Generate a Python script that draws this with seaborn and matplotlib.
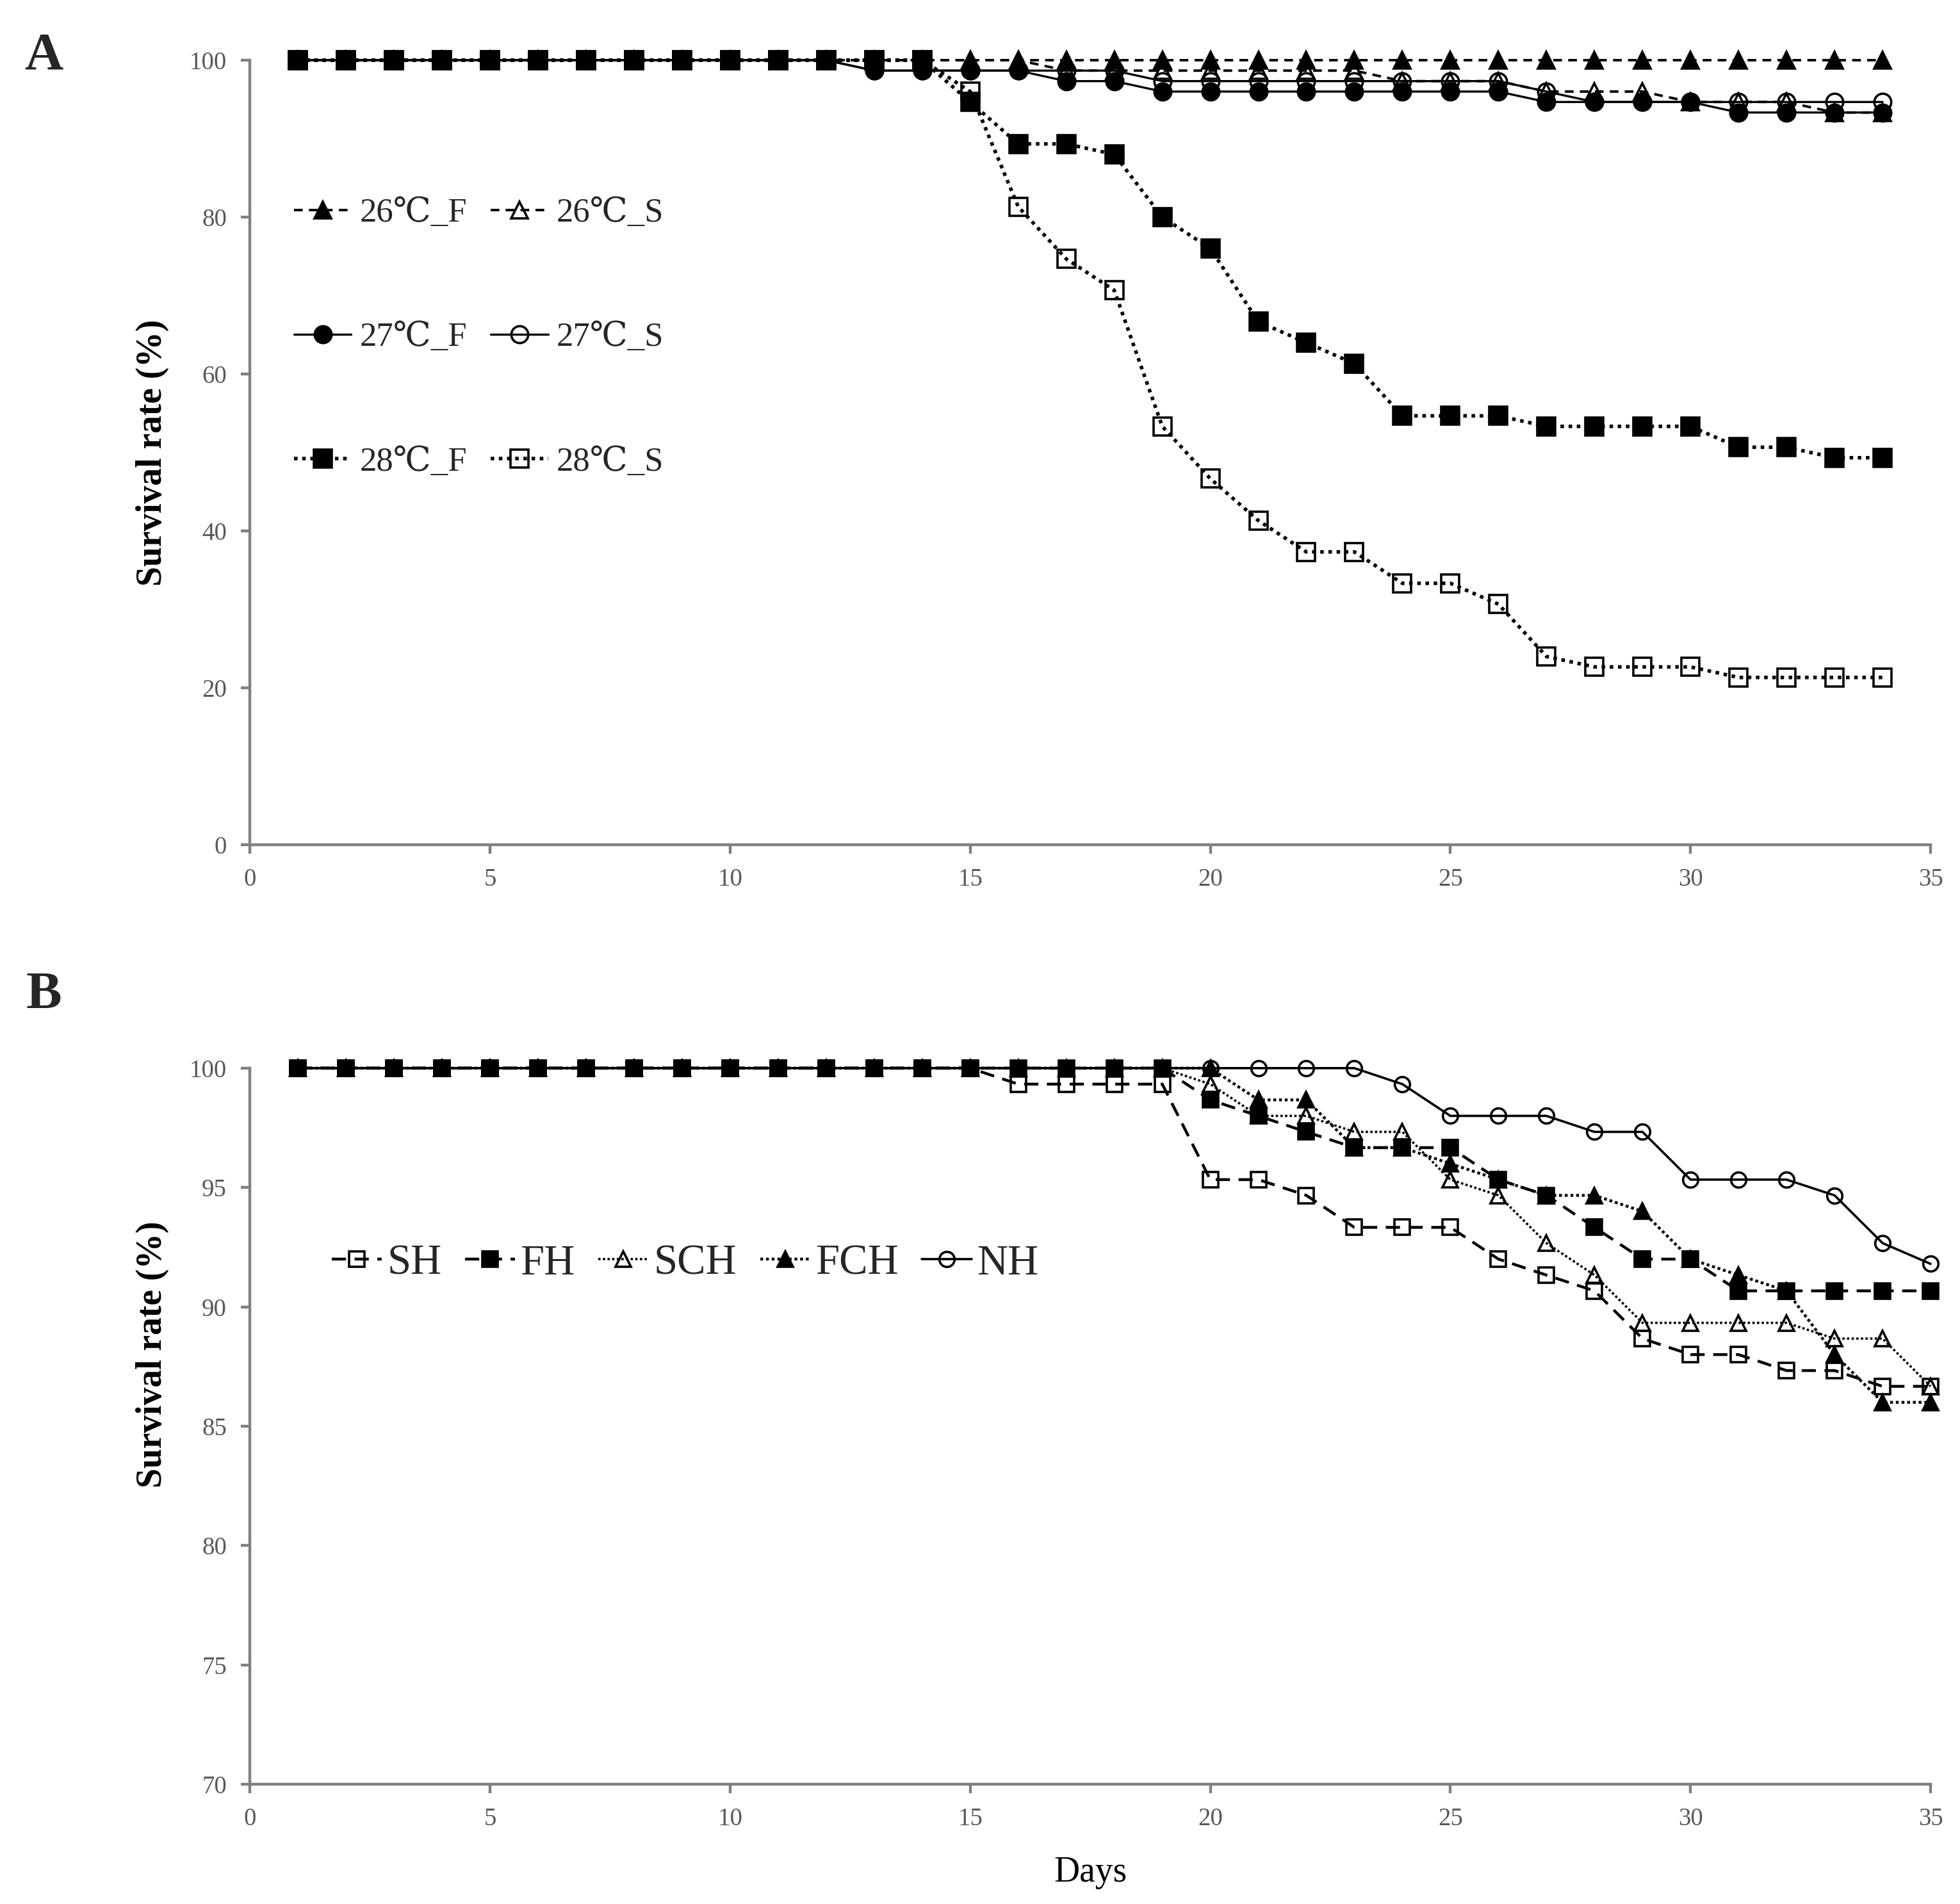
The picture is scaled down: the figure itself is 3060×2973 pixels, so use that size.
import pandas as pd
import matplotlib.pyplot as plt
import seaborn as sns

sns.set_style('ticks')
plt.rcParams['font.family'] = ['Liberation Serif', 'DejaVu Serif', 'DejaVu Sans']

# panel A: rearing temperature, days 1-34
days_a = list(range(1, 35))
t26_f = [100] * 34
t26_s = [100, 100, 100, 100, 100, 100, 100, 100, 100, 100, 100, 100, 100, 100, 100, 100,
         98.67, 98.67, 98.67, 98.67, 98.67, 98.67, 98.67, 97.33, 97.33, 97.33,
         96.0, 96.0, 96.0, 94.67, 94.67, 94.67, 93.33, 93.33]
t27_f = [100, 100, 100, 100, 100, 100, 100, 100, 100, 100, 100, 100,
         98.67, 98.67, 98.67, 98.67, 97.33, 97.33, 96.0, 96.0, 96.0, 96.0, 96.0, 96.0,
         96.0, 96.0, 94.67, 94.67, 94.67, 94.67, 93.33, 93.33, 93.33, 93.33]
t27_s = [100, 100, 100, 100, 100, 100, 100, 100, 100, 100, 100, 100,
         98.67, 98.67, 98.67, 98.67, 98.67, 98.67, 97.33, 97.33, 97.33, 97.33, 97.33,
         97.33, 97.33, 97.33, 96.0, 94.67, 94.67, 94.67, 94.67, 94.67, 94.67, 94.67]
t28_f = [100, 100, 100, 100, 100, 100, 100, 100, 100, 100, 100, 100, 100, 100,
         94.67, 89.33, 89.33, 88.0, 80.0, 76.0, 66.67, 64.0, 61.33, 54.67, 54.67,
         54.67, 53.33, 53.33, 53.33, 53.33, 50.67, 50.67, 49.33, 49.33]
t28_s = [100, 100, 100, 100, 100, 100, 100, 100, 100, 100, 100, 100, 100, 100,
         96.0, 81.33, 74.67, 70.67, 53.33, 46.67, 41.33, 37.33, 37.33, 33.33, 33.33,
         30.67, 24.0, 22.67, 22.67, 22.67, 21.33, 21.33, 21.33, 21.33]

# panel B: feeding groups, days 1-35
days_b = list(range(1, 36))
sh = [100] * 15 + [99.33, 99.33, 99.33, 99.33, 95.33, 95.33, 94.67, 93.33, 93.33, 93.33,
                   92.0, 91.33, 90.67, 88.67, 88.0, 88.0, 87.33, 87.33, 86.67, 86.67]
fh = [100] * 19 + [98.67, 98.0, 97.33, 96.67, 96.67, 96.67, 95.33, 94.67, 93.33, 92.0,
                   92.0, 90.67, 90.67, 90.67, 90.67, 90.67]
sch = [100] * 19 + [99.33, 98.0, 98.0, 97.33, 97.33, 95.33, 94.67, 92.67, 91.33, 89.33,
                    89.33, 89.33, 89.33, 88.67, 88.67, 86.67]
fch = [100] * 19 + [100, 98.67, 98.67, 96.67, 96.67, 96.0, 95.33, 94.67, 94.67, 94.0,
                    92.0, 91.33, 90.67, 88.0, 86.0, 86.0]
nh = [100] * 23 + [99.33, 98.0, 98.0, 98.0, 97.33, 97.33, 95.33, 95.33, 95.33, 94.67,
                   92.67, 91.8]

grey = '#808080'
tick_grey = '#595959'

fig = plt.figure(figsize=(15.3, 14.865), dpi=200)
ax_a = fig.add_axes([0.1275, 0.5563, 0.8575, 0.4121])
ax_b = fig.add_axes([0.1275, 0.0629, 0.8575, 0.3761])


def draw(ax, x, y, label, marker, ls, filled, ms, lw):
    sns.lineplot(x=x, y=y, ax=ax, label=label, color='black', marker=marker,
                 linestyle=ls, linewidth=lw, markersize=ms,
                 markerfacecolor='black' if filled else 'none',
                 markeredgecolor='black', markeredgewidth=1.3, clip_on=False)


dash = (0, (3.5, 2.5))
dot = (0, (1, 1.3))

# order gives rows 26/27/28 with F left and S right
draw(ax_a, days_a, t26_f, '26\u2103_F', '^', dash, True, 9.5, 1.4)
draw(ax_a, days_a, t27_f, '27\u2103_F', 'o', '-', True, 9.5, 1.2)
draw(ax_a, days_a, t28_f, '28\u2103_F', 's', dot, True, 10, 2.0)
draw(ax_a, days_a, t26_s, '26\u2103_S', '^', dash, False, 9.5, 1.4)
draw(ax_a, days_a, t27_s, '27\u2103_S', 'o', '-', False, 9.5, 1.2)
draw(ax_a, days_a, t28_s, '28\u2103_S', 's', dot, False, 10, 2.0)

draw(ax_b, days_b, sh, 'SH', 's', (0, (5, 3)), False, 8.5, 1.6)
draw(ax_b, days_b, fh, 'FH', 's', (0, (5, 3)), True, 8.5, 1.6)
draw(ax_b, days_b, sch, 'SCH', '^', (0, (1, 1)), False, 8.5, 1.3)
draw(ax_b, days_b, fch, 'FCH', '^', (0, (1, 1)), True, 8.5, 1.6)
draw(ax_b, days_b, nh, 'NH', 'o', '-', False, 8.5, 1.3)

for ax in (ax_a, ax_b):
    ax.set_xlim(0, 35)
    ax.set_xticks(range(0, 36, 5))
    sns.despine(ax=ax)
    for sp in ('left', 'bottom'):
        ax.spines[sp].set_color(grey)
        ax.spines[sp].set_linewidth(1.6)
    ax.tick_params(axis='both', direction='out', length=5, width=1.6, color=grey,
                   labelsize=14, labelcolor=tick_grey, pad=8)
    ax.set_ylabel('Survival rate (%)', fontsize=20, fontweight='bold', color='black')

ax_a.set_ylim(0, 100)
ax_a.set_yticks(range(0, 101, 20))
ax_a.set_xlabel('')
ax_a.yaxis.set_label_coords(-0.048, 0.5)

ax_b.set_ylim(70, 100)
ax_b.set_yticks(range(70, 101, 5))
ax_b.set_xlabel('Days', fontsize=20, color='black')
ax_b.xaxis.set_label_coords(0.5, -0.1)
ax_b.yaxis.set_label_coords(-0.048, 0.6)

ax_a.legend(ncol=2, loc='upper left', bbox_to_anchor=(0.008, 0.863), frameon=False,
            fontsize=19, handlelength=1.7, handletextpad=0.25, columnspacing=0.7,
            labelspacing=2.77)
ax_b.legend(ncol=5, loc='center left', bbox_to_anchor=(0.026, 0.727), frameon=False,
            fontsize=24, handlelength=1.17, handletextpad=0.12, columnspacing=0.55)

fig.text(68 / 3060, 1 - 88 / 2973, 'A', fontsize=30, fontweight='bold', ha='center', va='center')
fig.text(68 / 3060, 1 - 1555 / 2973, 'B', fontsize=30, fontweight='bold', ha='center', va='center')

fig.savefig('out.png', dpi=200)
